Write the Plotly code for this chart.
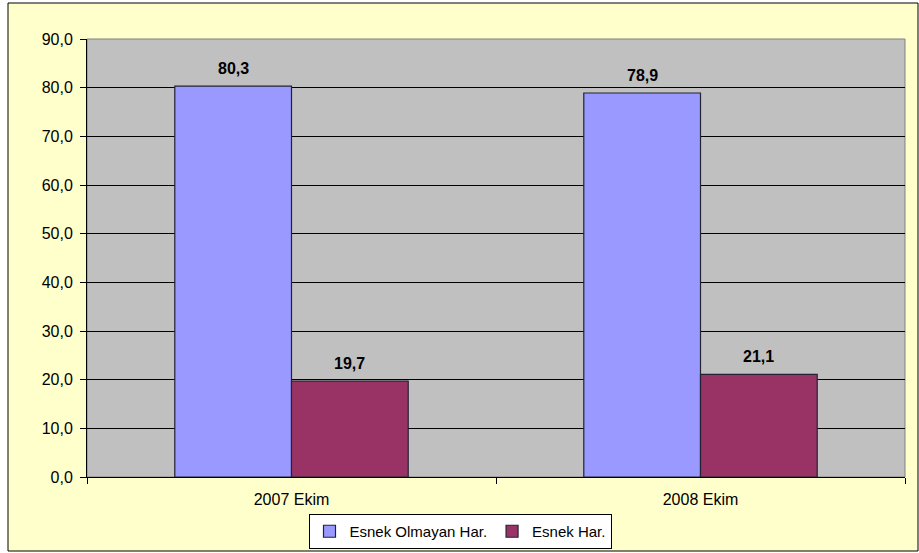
import plotly.graph_objects as go

categories = ["2007 Ekim", "2008 Ekim"]
series_names = ["Esnek Olmayan Har.", "Esnek Har."]
esnek_olmayan = [80.3, 78.9]
esnek = [19.7, 21.1]
y_ticks = [0, 10, 20, 30, 40, 50, 60, 70, 80, 90]

colors = ["#9999FF", "#993366"]
values = [esnek_olmayan, esnek]

W, H = 919, 553
L, R, T, B = 87, 14, 39, 76
pw = W - L - R
ph = H - T - B

fig = go.Figure()
for name, vals, col in zip(series_names, values, colors):
    fig.add_trace(go.Bar(
        x=categories, y=vals, name=name,
        marker=dict(color=col, line=dict(color="#222233", width=1.2)),
    ))

bargap = 1 - 234 / 410
bar_px = pw / len(categories) * (1 - bargap) / 2
for i, vals in enumerate(values):
    shift = (i - 0.5) * bar_px
    for c, v in zip(categories, vals):
        fig.add_annotation(
            x=c, y=v, text="<b>" + f"{v:.1f}".replace(".", ",") + "</b>",
            showarrow=False, xshift=shift, yshift=7, yanchor="bottom",
            font=dict(family="Liberation Sans, Arial", size=16, color="black"),
        )

def px2x(p):
    return (p - L) / pw

def py2y(p):
    return (H - B - p) / ph

fig.add_shape(type="rect", xref="paper", yref="paper",
              x0=px2x(8), x1=px2x(918), y0=py2y(551), y1=py2y(3),
              line=dict(color="black", width=1), fillcolor="#FFFFCC", layer="below")
fig.add_shape(type="rect", xref="paper", yref="paper",
              x0=0, x1=1, y0=0, y1=1,
              line=dict(color="#808080", width=1), fillcolor="#C0C0C0", layer="below")

fig.update_layout(
    width=W, height=H,
    margin=dict(l=L, r=R, t=T, b=B, autoexpand=False),
    paper_bgcolor="white",
    plot_bgcolor="#C0C0C0",
    separators=",.",
    barmode="group",
    bargap=bargap,
    bargroupgap=0,
    font=dict(family="Liberation Sans, Arial", size=16, color="black"),
    showlegend=True,
    legend=dict(
        orientation="h", xref="container", yref="container",
        x=460 / W, xanchor="center", y=1 - 514 / H, yanchor="top",
        bgcolor="white", bordercolor="black", borderwidth=1,
        font=dict(size=15), itemwidth=30, tracegroupgap=0,
    ),
    xaxis=dict(
        showline=True, linecolor="black", linewidth=1,
        ticks="outside", tickson="boundaries", ticklen=6, tickcolor="black",
        showgrid=False, ticklabelstandoff=8,
    ),
    yaxis=dict(
        range=[0, 90], tickvals=y_ticks, tickformat=".1f",
        showline=True, linecolor="black", linewidth=1,
        ticks="outside", ticklen=6, tickcolor="black",
        showgrid=True, gridcolor="black", gridwidth=1,
        zeroline=False, ticklabelstandoff=4,
    ),
)

fig.write_html("out.html", config={"displayModeBar": False},
               post_script="document.body.style.margin='0';document.body.style.overflow='hidden';")
